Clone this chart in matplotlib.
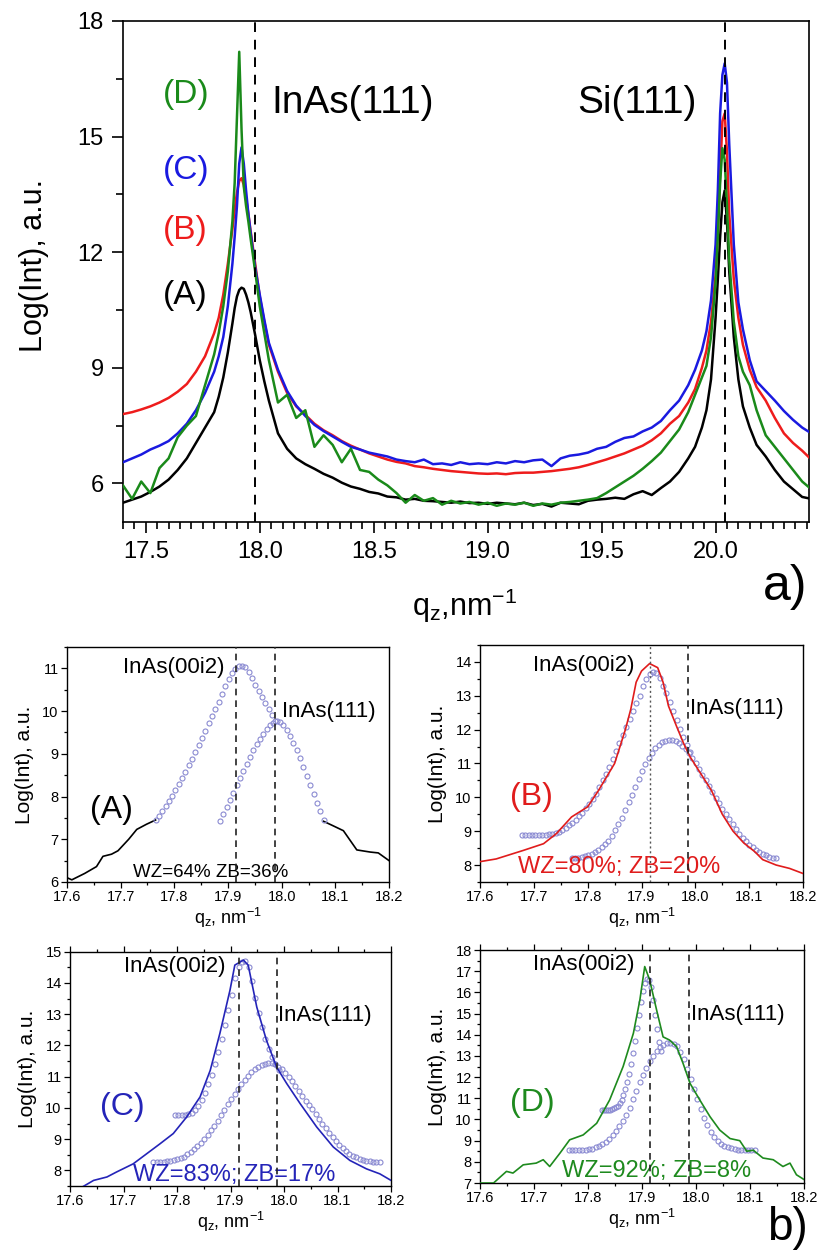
import numpy as np
import matplotlib
matplotlib.use("Agg")
import matplotlib.pyplot as plt
from matplotlib.ticker import MultipleLocator, FormatStrFormatter

plt.rcParams['font.family'] = ['Liberation Sans', 'DejaVu Sans']
plt.rcParams['mathtext.fontset'] = 'custom'
plt.rcParams['mathtext.rm'] = 'Liberation Sans'
plt.rcParams['mathtext.it'] = 'Liberation Sans:italic'

# ---------------- panel a) : full scans ----------------
main_q = [17.40, 17.44, 17.48, 17.52, 17.56, 17.60, 17.64, 17.68, 17.72, 17.76, 17.80,
          17.82, 17.84, 17.86, 17.88, 17.89, 17.90, 17.91, 17.92, 17.93, 17.94, 17.95, 17.96,
          17.98, 18.00, 18.02, 18.04,
          18.08, 18.12, 18.16, 18.20, 18.24, 18.28, 18.32, 18.36, 18.40, 18.44, 18.48, 18.52,
          18.56, 18.60, 18.64, 18.68, 18.72, 18.76, 18.80, 18.84, 18.88, 18.92, 18.96, 19.00,
          19.04, 19.08, 19.12, 19.16, 19.20, 19.24, 19.28, 19.32, 19.36, 19.40, 19.44, 19.48,
          19.52, 19.56, 19.60, 19.64, 19.68, 19.72, 19.76, 19.80,
          19.84, 19.88, 19.91, 19.94, 19.96, 19.98, 20.00, 20.01, 20.02, 20.03, 20.04, 20.05,
          20.06, 20.08, 20.10, 20.12, 20.15,
          20.18, 20.22, 20.26, 20.30, 20.34, 20.38, 20.42]

main_A = [5.50, 5.58, 5.66, 5.78, 5.92, 6.10, 6.35, 6.65, 7.05, 7.45, 7.85,
          8.25, 8.75, 9.40, 10.15, 10.55, 10.85, 11.02, 11.08, 11.05, 10.90, 10.70, 10.45,
          9.85, 9.20, 8.65, 8.15,
          7.30, 6.90, 6.65, 6.50, 6.38, 6.25, 6.15, 6.02, 5.92, 5.86, 5.78, 5.74,
          5.66, 5.64, 5.58, 5.60, 5.55, 5.54, 5.52, 5.50, 5.53, 5.49, 5.50, 5.47,
          5.50, 5.48, 5.46, 5.50, 5.44, 5.47, 5.40, 5.50, 5.48, 5.46, 5.55, 5.58,
          5.60, 5.63, 5.60, 5.72, 5.80, 5.70, 5.88, 6.05,
          6.30, 6.65, 6.95, 7.45, 7.90, 8.70, 10.30, 11.30, 12.40, 13.30, 13.60, 12.80,
          11.50, 9.80, 8.70, 8.00, 7.45,
          7.00, 6.70, 6.35, 6.05, 5.85, 5.65, 5.60]

main_B = [7.80, 7.85, 7.92, 8.00, 8.10, 8.22, 8.38, 8.58, 8.90, 9.30, 9.90,
          10.30, 10.90, 11.70, 12.60, 13.10, 13.55, 13.85, 13.92, 13.75, 13.40, 13.00, 12.55,
          11.70, 10.85, 10.20, 9.60,
          8.90, 8.35, 8.00, 7.78, 7.55, 7.38, 7.25, 7.10, 6.98, 6.88, 6.78, 6.70,
          6.62, 6.56, 6.52, 6.45, 6.42, 6.38, 6.35, 6.32, 6.30, 6.28, 6.26, 6.25,
          6.26, 6.24, 6.27, 6.28, 6.28, 6.30, 6.32, 6.35, 6.38, 6.42, 6.48, 6.55,
          6.62, 6.70, 6.78, 6.88, 6.98, 7.12, 7.30, 7.55,
          7.75, 8.10, 8.45, 9.00, 9.45, 10.20, 11.40, 12.50, 14.00, 15.40, 15.60, 14.60,
          13.00, 11.30, 10.30, 9.60, 8.95,
          8.50, 8.15, 7.70, 7.30, 7.05, 6.85, 6.62]

main_C = [6.55, 6.65, 6.75, 6.88, 6.98, 7.10, 7.30, 7.55, 7.90, 8.35, 8.90,
          9.30, 9.80, 10.60, 11.70, 12.40, 13.20, 14.30, 14.72, 14.30, 13.60, 13.00, 12.50,
          11.60, 10.90, 10.25, 9.65,
          8.95, 8.40, 8.02, 7.75, 7.52, 7.36, 7.22, 7.08, 6.95, 6.88, 6.80, 6.75,
          6.70, 6.62, 6.58, 6.55, 6.62, 6.50, 6.52, 6.48, 6.55, 6.50, 6.52, 6.50,
          6.55, 6.52, 6.58, 6.55, 6.60, 6.62, 6.45, 6.65, 6.72, 6.75, 6.80, 6.90,
          6.95, 7.08, 7.18, 7.22, 7.35, 7.45, 7.62, 7.90,
          8.15, 8.55, 8.95, 9.45, 9.95, 10.75, 12.20, 13.60, 15.60, 16.60, 16.90, 16.40,
          14.80, 12.20, 10.70, 10.00, 9.20,
          8.65, 8.40, 8.15, 7.88, 7.65, 7.45, 7.30]

main_D = [5.95, 5.60, 6.05, 5.75, 6.40, 6.65, 7.20, 7.50, 7.75, 8.55, 9.35,
          9.90, 10.60, 11.50, 12.80, 13.80, 15.50, 17.20, 15.20, 13.70, 13.20, 12.80, 12.35,
          11.50, 10.60, 9.90, 9.20,
          8.10, 8.30, 7.70, 7.90, 6.95, 7.25, 7.00, 6.55, 6.90, 6.35, 6.30, 6.10,
          5.95, 5.75, 5.50, 5.70, 5.55, 5.62, 5.45, 5.55, 5.48, 5.52, 5.45, 5.50,
          5.42, 5.48, 5.45, 5.50, 5.42, 5.48, 5.45, 5.50, 5.52, 5.55, 5.58, 5.62,
          5.75, 5.90, 6.05, 6.20, 6.38, 6.58, 6.80, 7.10,
          7.40, 7.85, 8.30, 8.75, 9.05, 9.80, 11.20, 12.40, 13.80, 14.70, 14.40, 13.20,
          11.80, 10.20, 9.30, 8.90, 8.55,
          7.90, 7.25, 6.95, 6.65, 6.35, 6.05, 5.85]

main_series = [("(A)", main_A, "black"), ("(B)", main_B, "#ee1c1c"),
               ("(C)", main_C, "#1a1ae0"), ("(D)", main_D, "#1a8a1a")]
main_label_y = {"(A)": 10.88, "(B)": 12.57, "(C)": 14.13, "(D)": 16.08}
main_peaks = [17.98, 20.04]

# ---------------- panels b) : zoom on InAs peak with fits ----------------
# measured curves
A_q = [17.600, 17.609, 17.633, 17.655, 17.667, 17.683, 17.695, 17.715, 17.730, 17.748, 17.765,
       np.nan, 18.078, 18.095, 18.115, 18.140, 18.165, 18.180, 18.200]
A_y = [6.10, 6.05, 6.20, 6.36, 6.60, 6.65, 6.73, 7.00, 7.23, 7.35, 7.45,
       np.nan, 7.42, 7.32, 7.20, 6.75, 6.70, 6.68, 6.50]

B_q = [17.600, 17.630, 17.680, 17.718, 17.742, 17.770, 17.800, 17.820, 17.850, 17.870, 17.880,
       17.890, 17.900, 17.915, 17.930, 17.940, 17.950, 17.965, 17.978, 17.990, 18.010, 18.030,
       18.050, 18.070, 18.090, 18.110, 18.125, 18.150, 18.175, 18.200]
B_y = [8.10, 8.18, 8.43, 8.63, 8.93, 9.42, 9.72, 10.20, 11.00, 12.00, 12.60,
       13.40, 13.73, 13.95, 13.83, 13.40, 12.70, 12.10, 11.60, 11.20, 10.70, 10.20,
       9.50, 9.00, 8.65, 8.40, 8.16, 8.00, 7.90, 7.75]

C_q = [17.625, 17.644, 17.669, 17.687, 17.718, 17.743, 17.768, 17.793, 17.818, 17.843, 17.862,
       17.880, 17.899, 17.908, 17.924, 17.933, 17.949, 17.967, 17.986, 18.005, 18.030, 18.061,
       18.092, 18.123, 18.154, 18.179, 18.200]
C_y = [7.49, 7.68, 7.79, 7.95, 8.21, 8.53, 8.85, 9.18, 9.71, 10.35, 11.20,
       12.38, 13.77, 14.57, 14.73, 14.57, 13.23, 12.17, 11.31, 10.78, 10.14, 9.39,
       8.75, 8.32, 8.05, 7.89, 7.68]

D_q = [17.600, 17.625, 17.649, 17.661, 17.680, 17.704, 17.717, 17.729, 17.748, 17.766, 17.791,
       17.816, 17.840, 17.865, 17.884, 17.896, 17.905, 17.914, 17.927, 17.939, 17.951, 17.964,
       17.976, 17.989, 18.007, 18.026, 18.044, 18.063, 18.081, 18.094, 18.106, 18.124, 18.143,
       18.161, 18.174, 18.186, 18.201]
D_y = [7.00, 7.00, 7.55, 7.47, 7.86, 7.94, 8.10, 7.78, 8.41, 9.04, 9.27,
       9.82, 10.92, 12.50, 14.07, 15.64, 17.22, 16.60, 15.17, 13.90, 13.75, 13.44,
       12.65, 11.70, 10.92, 10.13, 9.50, 9.10, 9.00, 8.50, 8.55, 8.18, 8.10,
       7.78, 7.94, 7.39, 7.15]

# fitted components (WZ = InAs(00i2), ZB = InAs(111)); q range of each fit curve
A_wz_range = (17.765, 17.988)
A_wz = [7.45, 7.55, 7.66, 7.78, 7.90, 8.02, 8.15, 8.29, 8.43, 8.58, 8.73, 8.88, 9.04,
        9.20, 9.37, 9.54, 9.71, 9.88, 10.05, 10.22, 10.40, 10.58, 10.74, 10.88, 10.98,
        11.05, 11.06, 11.02, 10.92, 10.78, 10.62, 10.46, 10.32, 10.18, 10.04, 9.90, 9.76]
A_zb_range = (17.885, 18.078)
A_zb = [7.42, 7.58, 7.75, 7.92, 8.09, 8.26, 8.43, 8.60, 8.77, 8.93, 9.08, 9.22, 9.35,
        9.47, 9.58, 9.67, 9.73, 9.76, 9.74, 9.67, 9.56, 9.42, 9.26, 9.08, 8.89, 8.69,
        8.48, 8.27, 8.06, 7.85, 7.65, 7.45]

B_wz_range = (17.678, 17.990)
B_wz = [8.89, 8.89, 8.89, 8.89, 8.89, 8.89, 8.90, 8.90, 8.91, 8.93, 8.95, 8.99, 9.04,
        9.10, 9.17, 9.25, 9.34, 9.44, 9.55, 9.67, 9.80, 9.95, 10.11, 10.30, 10.50, 10.70,
        10.91, 11.13, 11.36, 11.59, 11.83, 12.07, 12.31, 12.55, 12.78, 13.00, 13.30, 13.50,
        13.64, 13.70, 13.66, 13.52, 13.30, 13.08, 12.82, 12.55, 12.28, 12.02, 11.78, 11.55,
        11.35]
B_zb_range = (17.770, 18.150)
B_zb = [8.20, 8.21, 8.22, 8.24, 8.27, 8.30, 8.34, 8.39, 8.45, 8.52, 8.61, 8.72, 8.86,
        9.02, 9.20, 9.40, 9.62, 9.85, 10.08, 10.31, 10.54, 10.77, 10.98, 11.16, 11.32,
        11.45, 11.55, 11.62, 11.66, 11.68, 11.68, 11.66, 11.61, 11.53, 11.43, 11.31, 11.16,
        11.00, 10.84, 10.67, 10.50, 10.33, 10.16, 9.99, 9.82, 9.66, 9.50, 9.35, 9.20,
        9.06, 8.93, 8.81, 8.70, 8.60, 8.52, 8.45, 8.39, 8.34, 8.29, 8.25, 8.22, 8.20]

C_wz_range = (17.796, 17.990)
C_wz = [9.76, 9.76, 9.77, 9.78, 9.80, 9.84, 9.92, 10.06, 10.25, 10.48, 10.75, 11.06,
        11.40, 11.78, 12.20, 12.66, 13.14, 13.62, 14.15, 14.50, 14.68, 14.70, 14.50,
        14.05, 13.52, 13.05, 12.60, 12.22, 11.90, 11.62, 11.40, 11.22]
C_zb_range = (17.756, 18.179)
C_zb = [8.27, 8.27, 8.28, 8.28, 8.29, 8.30, 8.32, 8.35, 8.39, 8.44, 8.51, 8.59, 8.68,
        8.78, 8.89, 9.01, 9.14, 9.28, 9.43, 9.59, 9.76, 9.93, 10.11, 10.28, 10.45, 10.61,
        10.76, 10.90, 11.03, 11.14, 11.24, 11.32, 11.38, 11.42, 11.44, 11.43, 11.39, 11.32,
        11.23, 11.12, 10.99, 10.85, 10.70, 10.54, 10.38, 10.22, 10.08, 9.95, 9.80, 9.65,
        9.50, 9.35, 9.20, 9.06, 8.93, 8.82, 8.72, 8.62, 8.54, 8.47, 8.42, 8.37, 8.33,
        8.31, 8.29, 8.28, 8.27, 8.27]

D_wz_range = (17.825, 17.936)
D_wz = [10.45, 10.45, 10.45, 10.46, 10.47, 10.49, 10.52, 10.57, 10.65, 10.77, 10.93,
        11.14, 11.42, 11.76, 12.16, 12.63, 13.15, 13.72, 14.32, 14.94, 15.53, 16.05,
        16.45, 16.65, 16.60, 16.25, 15.65, 14.95, 14.25, 13.65, 13.25]
D_zb_range = (17.764, 18.109)
D_zb = [8.55, 8.55, 8.55, 8.56, 8.57, 8.58, 8.60, 8.63, 8.68, 8.75, 8.84, 8.95, 9.09,
        9.26, 9.46, 9.69, 9.95, 10.23, 10.53, 10.95, 11.35, 11.75, 12.10, 12.45, 12.75,
        13.00, 13.22, 13.40, 13.52, 13.59, 13.60, 13.57, 13.46, 13.20, 12.85, 12.40, 11.90,
        11.42, 10.95, 10.50, 10.08, 9.72, 9.42, 9.18, 9.00, 8.86, 8.76, 8.69, 8.64, 8.60,
        8.58, 8.56, 8.55, 8.55, 8.55, 8.55]

panels = [
    dict(tag="(A)", q=A_q, y=A_y, col="black", wz=A_wz, wzr=A_wz_range, zb=A_zb, zbr=A_zb_range,
         ylim=(6, 11.5), frac="WZ=64% ZB=36%", tag_pos=(17.643, 7.69),
         frac_pos=(17.723, 6.23), fs_frac=13.5, lab00=(17.704, 11.02), lab111=(18.0, 10.0),
         rect=[0.0817, 0.2978, 0.3927, 0.1871], top_ticks=False, line_top=False),
    dict(tag="(B)", q=B_q, y=B_y, col="#e01c1c", wz=B_wz, wzr=B_wz_range, zb=B_zb, zbr=B_zb_range,
         ylim=(7.5, 14.5), frac="WZ=80%; ZB=20%", tag_pos=(17.656, 10.0),
         frac_pos=(17.671, 7.93), fs_frac=17, lab00=(17.699, 13.9), lab111=(17.99, 12.62),
         rect=[0.5854, 0.2978, 0.3939, 0.1887], top_ticks=False, line_top=True),
    dict(tag="(C)", q=C_q, y=C_y, col="#2424b8", wz=C_wz, wzr=C_wz_range, zb=C_zb, zbr=C_zb_range,
         ylim=(7.5, 15), frac="WZ=83%; ZB=17%", tag_pos=(17.656, 10.03),
         frac_pos=(17.718, 7.84), fs_frac=17, lab00=(17.70, 14.52), lab111=(17.989, 12.97),
         rect=[0.0854, 0.0557, 0.3915, 0.1866], top_ticks=True, line_top=True),
    dict(tag="(D)", q=D_q, y=D_y, col="#1e8a1e", wz=D_wz, wzr=D_wz_range, zb=D_zb, zbr=D_zb_range,
         ylim=(7, 18), frac="WZ=92%; ZB=8%", tag_pos=(17.656, 10.77),
         frac_pos=(17.751, 7.55), fs_frac=17, lab00=(17.699, 17.3), lab111=(17.99, 14.94),
         rect=[0.5854, 0.0581, 0.3951, 0.1855], top_ticks=True, line_top=True),
]
wz_line, zb_line = 17.915, 17.987
fit_color = "#8a8ad2"

fig = plt.figure(figsize=(8.2, 12.56), dpi=100)

# ---- main panel
ax = fig.add_axes([0.150, 0.5844, 0.8366, 0.3989])
for tag, vals, col in main_series:
    ax.plot(main_q, vals, color=col, lw=1.8, zorder=3)
    ax.text(17.575, main_label_y[tag], tag, color=col, fontsize=24, va="center", ha="left")
for qp in main_peaks:
    ax.axvline(qp, color="black", lw=1.4, ls=(0, (5, 4)), zorder=4)
ax.text(18.053, 15.87, "InAs(111)", fontsize=28, va="center")
ax.text(19.395, 15.87, "Si(111)", fontsize=28, va="center")
ax.set_xlim(17.4, 20.41)
ax.set_ylim(5, 18)
ax.xaxis.set_major_locator(MultipleLocator(0.5))
ax.xaxis.set_minor_locator(MultipleLocator(0.05))
ax.xaxis.set_major_formatter(FormatStrFormatter("%.1f"))
ax.yaxis.set_major_locator(MultipleLocator(3))
ax.yaxis.set_minor_locator(MultipleLocator(1.5))
ax.tick_params(which="both", direction="out", labelsize=17, width=1.2)
ax.tick_params(which="major", length=8, pad=6)
ax.tick_params(which="minor", length=5)
for s in ax.spines.values():
    s.set_linewidth(1.2)
fig.text(0.041, 0.789, "Log(Int), a.u.", rotation=90, fontsize=22, ha="center", va="center")
fig.text(0.567, 0.518, r"q$_\mathrm{z}$,nm$^{\mathrm{-1}}$", fontsize=22, ha="center", va="center")
fig.text(0.957, 0.533, "a)", fontsize=36, ha="center", va="center")

# ---- zoomed panels
for p in panels:
    a = fig.add_axes(p["rect"])
    lz = 4 if p["line_top"] else 2
    a.plot(p["q"], p["y"], color=p["col"], lw=1.2, zorder=lz)
    for vals, (q0, q1) in [(p["wz"], p["wzr"]), (p["zb"], p["zbr"])]:
        qq = np.linspace(q0, q1, len(vals))
        a.plot(qq, vals, ls="none", marker="o", ms=3.6, mfc="none", mec=fit_color,
               mew=0.8, zorder=3)
    if p["tag"] == "(B)":
        a.axvline(wz_line, color="#555555", lw=1.0, ls=(0, (1.5, 2)), zorder=5)
    else:
        a.axvline(wz_line, color="#222222", lw=1.2, ls=(0, (4, 3)), zorder=5)
    a.axvline(zb_line, color="#222222", lw=1.2, ls=(0, (4, 3)), zorder=5)
    a.text(*p["lab00"], "InAs(00i2)", fontsize=16, va="center", ha="left")
    a.text(*p["lab111"], "InAs(111)", fontsize=16, va="center", ha="left")
    a.text(*p["tag_pos"], p["tag"], color=p["col"], fontsize=23, va="center", ha="left")
    a.text(*p["frac_pos"], p["frac"], color=p["col"], fontsize=p["fs_frac"], va="center", ha="left")
    a.set_xlim(17.6, 18.2)
    a.set_ylim(*p["ylim"])
    a.xaxis.set_major_locator(MultipleLocator(0.1))
    a.xaxis.set_minor_locator(MultipleLocator(0.05))
    a.xaxis.set_major_formatter(FormatStrFormatter("%.1f"))
    a.yaxis.set_major_locator(MultipleLocator(1))
    a.yaxis.set_minor_locator(MultipleLocator(0.5))
    a.tick_params(which="both", direction="out", labelsize=10.5, width=0.9, top=p["top_ticks"])
    a.tick_params(which="major", length=4, pad=2)
    a.tick_params(which="minor", length=2.5)
    for s in a.spines.values():
        s.set_linewidth(1.0)
    a.set_xlabel(r"q$_\mathrm{z}$, nm$^{\mathrm{-1}}$", fontsize=13, labelpad=1)
    a.set_ylabel("Log(Int), a.u.", fontsize=15, labelpad=6)

fig.text(0.960, 0.022, "b)", fontsize=33, ha="center", va="center")

fig.savefig("out.png", dpi=100)
